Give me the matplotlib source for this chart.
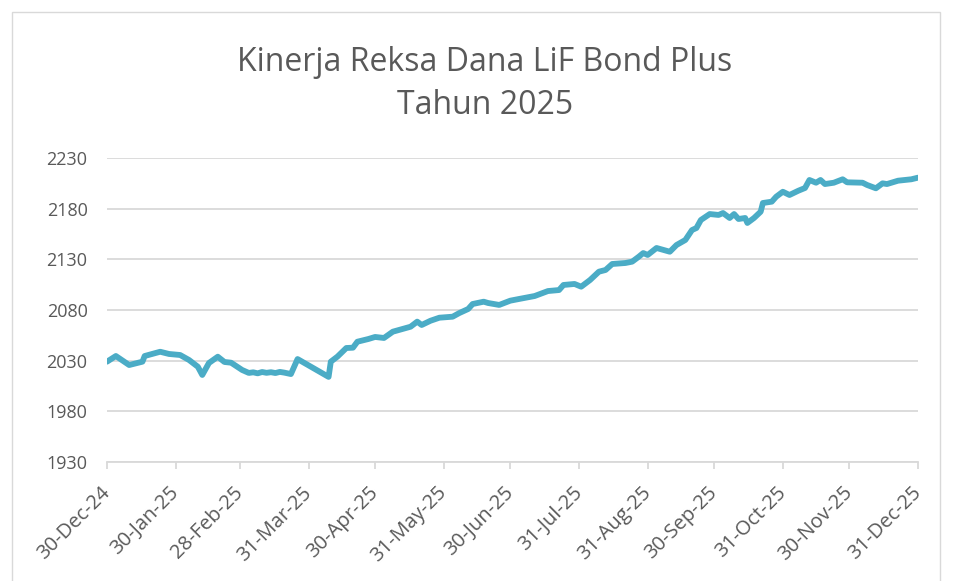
import matplotlib
matplotlib.use("Agg")
import matplotlib.pyplot as plt
from matplotlib.patches import Rectangle
import pandas as pd

plt.rcParams['font.family'] = ['Open Sans', 'DejaVu Sans']

title = "Kinerja Reksa Dana LiF Bond Plus\nTahun 2025"

dates = [
    "2024-12-30", "2025-01-03", "2025-01-09", "2025-01-15", "2025-01-16", "2025-01-23",
    "2025-01-27", "2025-02-01", "2025-02-05", "2025-02-09", "2025-02-11", "2025-02-14",
    "2025-02-18", "2025-02-21", "2025-02-24", "2025-03-01", "2025-03-04", "2025-03-06",
    "2025-03-08", "2025-03-10", "2025-03-12", "2025-03-14", "2025-03-16", "2025-03-18",
    "2025-03-20", "2025-03-23", "2025-03-26", "2025-04-09", "2025-04-10", "2025-04-13",
    "2025-04-17", "2025-04-20", "2025-04-22", "2025-04-27", "2025-04-30", "2025-05-04",
    "2025-05-08", "2025-05-16", "2025-05-19", "2025-05-21", "2025-05-25", "2025-05-29",
    "2025-06-04", "2025-06-07", "2025-06-11", "2025-06-13", "2025-06-18", "2025-06-20",
    "2025-06-25", "2025-06-30", "2025-07-04", "2025-07-11", "2025-07-17", "2025-07-22",
    "2025-07-24", "2025-07-29", "2025-08-01", "2025-08-05", "2025-08-09", "2025-08-12",
    "2025-08-15", "2025-08-21", "2025-08-24", "2025-08-27", "2025-08-29", "2025-08-31",
    "2025-09-04", "2025-09-10", "2025-09-13", "2025-09-17", "2025-09-20", "2025-09-22",
    "2025-09-24", "2025-09-28", "2025-10-02", "2025-10-04", "2025-10-07", "2025-10-09",
    "2025-10-11", "2025-10-14", "2025-10-15", "2025-10-18", "2025-10-21", "2025-10-22",
    "2025-10-26", "2025-10-28", "2025-10-31", "2025-11-03", "2025-11-07", "2025-11-10",
    "2025-11-12", "2025-11-15", "2025-11-17", "2025-11-19", "2025-11-23", "2025-11-27",
    "2025-11-29", "2025-12-06", "2025-12-08", "2025-12-12", "2025-12-15", "2025-12-17",
    "2025-12-22", "2025-12-28", "2025-12-31",
]

nav = [
    2029.0, 2034.6, 2025.7, 2029.0, 2034.6, 2038.8,
    2036.6, 2035.6, 2030.7, 2024.0, 2015.9, 2027.7,
    2033.9, 2028.7, 2028.0, 2020.8, 2017.9, 2018.5,
    2017.5, 2018.8, 2018.0, 2018.6, 2017.8, 2018.9,
    2018.2, 2016.8, 2031.6, 2014.0, 2029.0, 2034.0,
    2042.5, 2042.8, 2048.7, 2051.4, 2053.4, 2052.4,
    2058.6, 2063.5, 2068.5, 2065.2, 2069.4, 2072.4,
    2073.4, 2077.0, 2081.0, 2085.9, 2088.2, 2086.9,
    2085.0, 2089.2, 2090.9, 2093.8, 2098.7, 2099.7,
    2104.7, 2105.7, 2103.0, 2109.6, 2117.8, 2119.5,
    2125.4, 2126.4, 2127.7, 2132.6, 2136.2, 2134.3,
    2141.2, 2137.5, 2144.1, 2149.1, 2158.9, 2160.9,
    2168.8, 2174.7, 2173.8, 2175.7, 2170.8, 2174.7,
    2169.8, 2170.8, 2165.9, 2170.8, 2177.0, 2185.6,
    2186.9, 2191.8, 2196.7, 2193.5, 2197.7, 2200.4,
    2208.3, 2205.6, 2208.3, 2204.3, 2205.6, 2209.0,
    2206.0, 2205.6, 2203.4, 2200.1, 2205.0, 2204.3,
    2207.6, 2209.0, 2210.6,
]

tick_dates = [
    "2024-12-30", "2025-01-30", "2025-02-28", "2025-03-31", "2025-04-30",
    "2025-05-31", "2025-06-30", "2025-07-31", "2025-08-31", "2025-09-30",
    "2025-10-31", "2025-11-30", "2025-12-31",
]
y_ticks = [1930, 1980, 2030, 2080, 2130, 2180, 2230]

text_color = "#595959"
grid_color = "#D9D9D9"
line_color = "#4BACC6"

fig = plt.figure(figsize=(9.59, 5.81), dpi=100)
fig.patch.set_facecolor("white")
ax = fig.add_axes([107/959, 1 - 462/581, 811/959, 304/581])

x = pd.to_datetime(dates)
ax.plot(x, nav, color=line_color, lw=4.2, solid_joinstyle="round",
        solid_capstyle="round", zorder=3)

ax.set_ylim(1930, 2230)
ax.set_yticks(y_ticks)
ax.set_xlim(pd.Timestamp(tick_dates[0]), pd.Timestamp(tick_dates[-1]))
td = pd.to_datetime(tick_dates)
ax.set_xticks(td)
ax.set_xticklabels([d.strftime("%d-%b-%y") for d in td], rotation=45,
                   ha="right", va="center", rotation_mode="anchor")

ax.grid(axis="y", color=grid_color, lw=1.3, zorder=0)
for s in ["left", "right", "top"]:
    ax.spines[s].set_visible(False)
ax.spines["bottom"].set_color(grid_color)
ax.spines["bottom"].set_linewidth(1.3)
ax.tick_params(axis="y", length=0, pad=14, labelsize=13, labelcolor=text_color)
ax.tick_params(axis="x", length=5, width=1.3, color=grid_color, pad=15,
               labelsize=14.5, labelcolor=text_color)

fig.text(485/959, 1 - 84/581, title, ha="center", va="center",
         fontsize=23, color=text_color, linespacing=1.38)

fig.patches.append(Rectangle((12/959, -0.02), 928/959, 1 - 12/581 + 0.02,
                             transform=fig.transFigure, fill=False,
                             edgecolor=grid_color, lw=1.0))

fig.savefig("out.png", dpi=100)
